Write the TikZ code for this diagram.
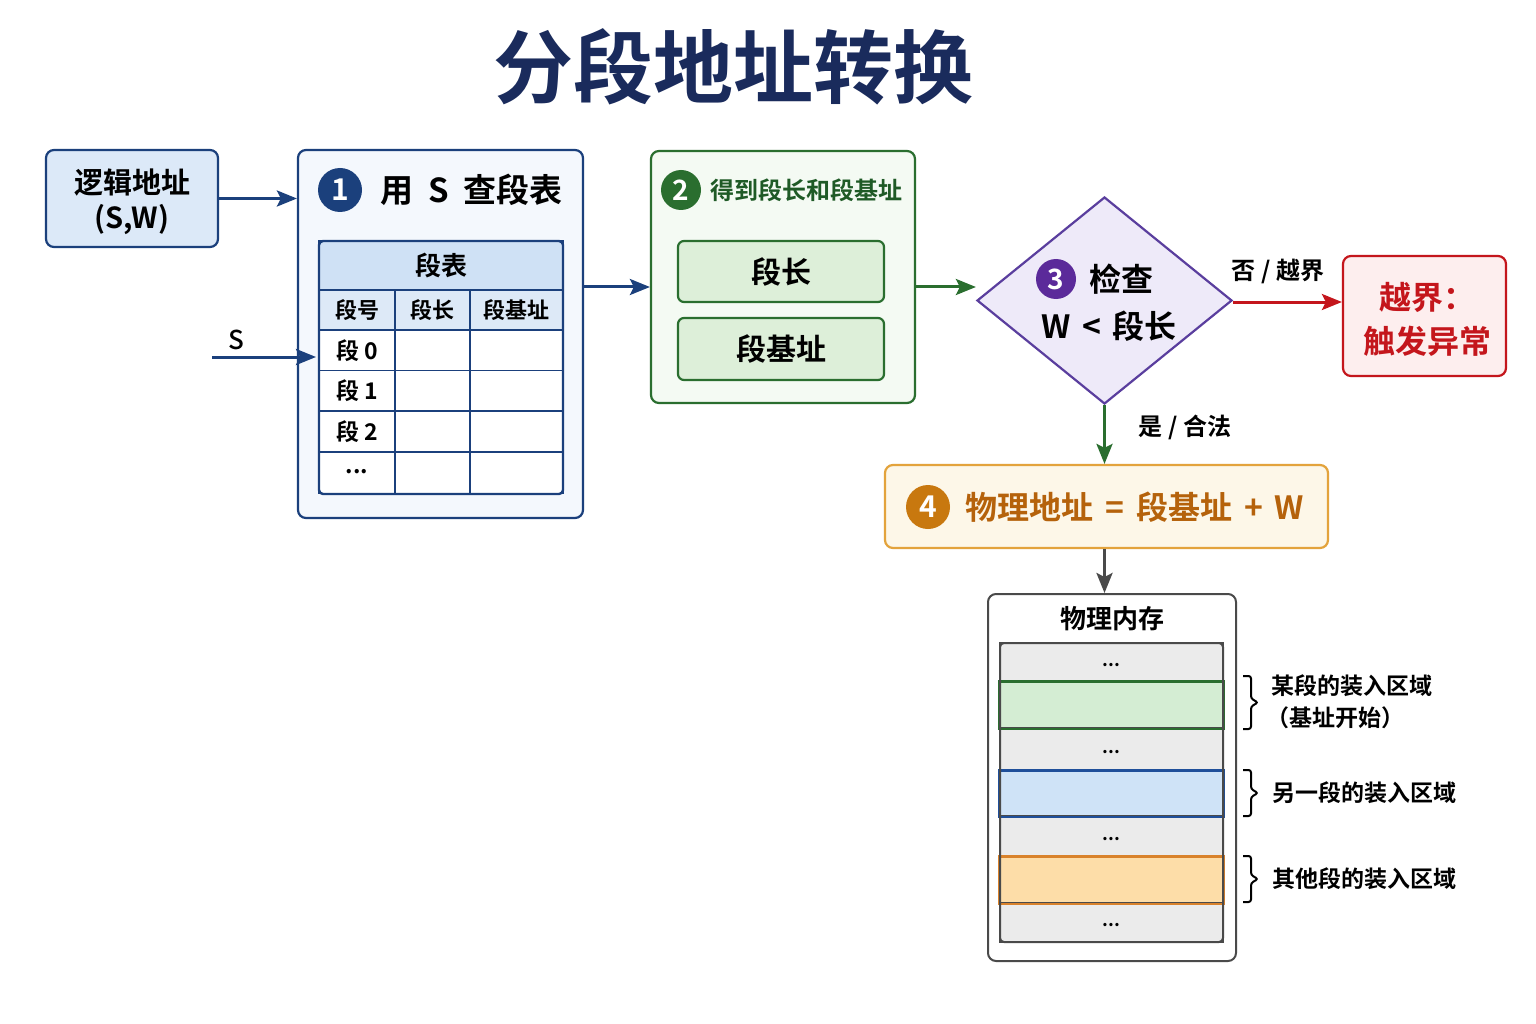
\documentclass[tikz,border=0pt]{standalone}
\usepackage{fontspec}
\setmainfont{Noto Sans CJK SC}[BoldFont={Noto Sans CJK SC Medium}]
\newfontfamily\heavy{Noto Sans CJK SC Bold}
\usetikzlibrary{arrows.meta,shapes.geometric,calc}
\definecolor{navy}{HTML}{1B407C}
\definecolor{titlec}{HTML}{1A2B5C}
\definecolor{lblue}{HTML}{DCE9F8}
\definecolor{vlblue}{HTML}{F4F8FD}
\definecolor{thead}{HTML}{CFE1F5}
\definecolor{tcol}{HTML}{DDE9F7}
\definecolor{grn}{HTML}{2A6E2F}
\definecolor{grnfill}{HTML}{F4FAF3}
\definecolor{grnin}{HTML}{DDEFD9}
\definecolor{grntext}{HTML}{1F5A26}
\definecolor{purp}{HTML}{5A3E9E}
\definecolor{purpfill}{HTML}{EEEAF9}
\definecolor{purpc}{HTML}{5B2A9A}
\definecolor{redc}{HTML}{C4161C}
\definecolor{redfill}{HTML}{FDEEEE}
\definecolor{orb}{HTML}{E3A33C}
\definecolor{orfill}{HTML}{FDF7E8}
\definecolor{orc}{HTML}{C8780F}
\definecolor{ortext}{HTML}{B5620B}
\definecolor{grayb}{HTML}{4A4A4A}
\definecolor{band}{HTML}{EBEBEB}
\definecolor{bandg}{HTML}{D4EDD3}
\definecolor{bandb}{HTML}{CFE3F7}
\definecolor{bandbb}{HTML}{1F4F9A}
\definecolor{bando}{HTML}{FDDDA8}
\definecolor{bandob}{HTML}{D9822B}
\newcommand\fsz[1]{\fontsize{#1}{#1}\selectfont\heavy}
\newcommand\msz[1]{\fontsize{#1}{#1}\selectfont\bfseries}
\newcommand\hsz[1]{\fontsize{#1}{#1}\selectfont\heavy}
\begin{document}
\begin{tikzpicture}[x=1pt,y=-1pt,
  rbox/.style={draw, line width=2.2pt, rounded corners=8pt, inner sep=0pt},
  lbl/.style={inner sep=0pt, text=black},
  numc/.style={circle, inner sep=0pt, minimum size=#1, text=white},
  arr/.style={line width=3pt, -{Stealth[length=20pt,width=16pt,inset=4pt]}},
  cell/.style={draw=navy, line width=1.6pt, inner sep=0pt},
  bnd/.style={draw, line width=1.8pt, inner sep=0pt, minimum width=223pt},
  brc/.style={draw=black, line width=2pt, rounded corners=2.5pt}
]
\useasboundingbox[fill=white] (0,0) rectangle (1536,1024);

% title
\node[lbl, text=titlec, font=\hsz{80}] (title) at (733,67) {分段地址转换};

% logical address
\node[rbox, draw=navy, fill=lblue, minimum width=172pt, minimum height=97pt] (lg) at (132,198.5) {};
\node[lbl, font=\fsz{29}] (lg1) at (132,183) {逻辑地址};
\node[lbl, font=\fsz{29}] (lg2) at (132,220) {(S,W)};

% box 1
\node[rbox, draw=navy, fill=vlblue, minimum width=285pt, minimum height=368pt] (b1) at (440.5,334) {};
\node[numc=44pt, fill=navy, font=\hsz{30}] (n1) at (340,190) {1};
\node[lbl, anchor=west, font=\fsz{33}] (b1t) at (380,190) {用\hspace{15pt}S\hspace{15pt}查段表};

% table
\node[cell, fill=thead, minimum width=244pt, minimum height=49pt] (th) at (441,265.5) {};
\node[lbl, font=\fsz{26}] at (th) {段表};
\foreach \cx/\w/\nm/\tx in {357/76/c1/段号, 432.5/75/c2/段长, 516.5/93/c3/段基址}{
  \node[cell, fill=tcol, minimum width=\w pt, minimum height=40pt] (\nm h) at (\cx,310) {};
  \node[lbl, font=\fsz{22}] at (\nm h) {\tx};
}
\foreach \cy/\r/\tx in {350.5/0/段 0, 391/1/段 1, 431.5/2/段 2, 473/3/\raisebox{4pt}{...}}{
  \node[cell, fill=white, minimum width=76pt, minimum height=41pt] (r\r a) at (357,\cy) {};
  \node[cell, fill=white, minimum width=75pt, minimum height=41pt] (r\r b) at (432.5,\cy) {};
  \node[cell, fill=white, minimum width=93pt, minimum height=41pt] (r\r c) at (516.5,\cy) {};
  \node[lbl, font=\fsz{23}] at (r\r a) {\tx};
}
\draw[draw=navy, line width=2.4pt, rounded corners=4pt] (319,241) rectangle (563,494);

% S input
\coordinate (sin) at (212,357);
\coordinate (sout) at (316,357);
\draw[arr, navy] (sin) -- (sout);
\node[lbl, font=\msz{26}] (slab) at (236,340) {S};

\draw[arr, navy] (lg.east) -- (b1.west |- lg.east);

% box 2
\node[rbox, draw=grn, fill=grnfill, minimum width=264pt, minimum height=252pt] (b2) at (783,277) {};
\node[numc=40pt, fill=grn, font=\hsz{28}] (n2) at (681,190) {2};
\node[lbl, anchor=west, text=grntext, font=\fsz{24}] (b2t) at (710,190) {得到段长和段基址};
\node[rbox, draw=grn, fill=grnin, rounded corners=6pt, minimum width=206pt, minimum height=61pt] (len) at (781,271.5) {};
\node[lbl, font=\fsz{30}] at (len) {段长};
\node[rbox, draw=grn, fill=grnin, rounded corners=6pt, minimum width=206pt, minimum height=62pt] (base) at (781,349) {};
\node[lbl, font=\fsz{30}] at (base) {段基址};

\draw[arr, navy] (b1.east |- 0,287) -- (b2.west |- 0,287);

% diamond
\node[diamond, draw=purp, fill=purpfill, line width=2.2pt, inner sep=0pt, minimum width=255pt, minimum height=207pt] (d) at (1104.5,300.5) {};
\node[numc=40pt, fill=purpc, font=\hsz{28}] (n3) at (1056,279) {3};
\node[lbl, anchor=west, font=\fsz{32}] (dt1) at (1089,279) {检查};
\node[lbl, font=\fsz{32}] (dt2) at (1109,326) {W\hspace{11pt}<\hspace{11pt}段长};

\draw[arr, grn] (b2.east |- 0,287) -- (d.west |- 0,287);

% red box
\node[rbox, draw=redc, fill=redfill, minimum width=163pt, minimum height=120pt] (err) at (1424.5,316) {};
\node[lbl, text=redc, font=\hsz{32}] (e1) at (1427,297) {越界：};
\node[lbl, text=redc, font=\hsz{32}] (e2) at (1427,341) {触发异常};
\draw[arr, redc] (d.east |- 0,302) -- (err.west |- 0,302);
\node[lbl, font=\fsz{24}] (nol) at (1278,271) {否 / 越界};

% box 4
\node[rbox, draw=orb, fill=orfill, minimum width=443pt, minimum height=83pt] (b4) at (1106.5,506.5) {};
\node[numc=44pt, fill=orc, font=\hsz{30}] (n4) at (928,507) {4};
\node[lbl, anchor=west, text=ortext, font=\fsz{32}] (b4t) at (965,507) {物理地址\hspace{12pt}=\hspace{12pt}段基址\hspace{12pt}+\hspace{12pt}W};
\draw[arr, grn] (d.south) -- (d.south |- b4.north);
\node[lbl, font=\fsz{24}] (yesl) at (1185,427) {是 / 合法};

% memory
\node[rbox, draw=grayb, fill=white, line width=2pt, minimum width=248pt, minimum height=367pt] (mem) at (1112,777.5) {};
\node[lbl, font=\fsz{26}] (memt) at (1112,619) {物理内存};
\draw[arr, grayb] (b4.south -| d.south) -- (mem.north -| d.south);

\node[bnd, draw=grayb, fill=band, minimum height=39pt] (m1) at (1111.5,662.5) {};
\node[bnd, draw=grn, fill=bandg, minimum height=46pt] (m2) at (1111.5,705) {};
\node[bnd, draw=grayb, fill=band, minimum height=43pt] (m3) at (1111.5,749.5) {};
\node[bnd, draw=bandbb, fill=bandb, minimum height=45pt] (m4) at (1111.5,793.5) {};
\node[bnd, draw=grayb, fill=band, minimum height=41pt] (m5) at (1111.5,836.5) {};
\node[bnd, draw=bandob, fill=bando, minimum height=46pt] (m6) at (1111.5,880) {};
\node[bnd, draw=grayb, fill=band, minimum height=39pt] (m7) at (1111.5,922.5) {};
\draw[draw=grn, line width=1.8pt] (m2.north west) rectangle (m2.south east);
\draw[draw=bandbb, line width=1.8pt] (m4.north west) rectangle (m4.south east);
\draw[draw=bandob, line width=1.8pt] (m6.north west) rectangle (m6.south east);
\draw[draw=grayb, line width=2pt, rounded corners=4pt] (1000,643) rectangle (1223,942);
\foreach \m in {m1,m3,m5,m7}{\node[lbl, font=\hsz{18}] at ([yshift=-3pt]\m) {...};}

% braces
\foreach \ya/\yb in {676/729, 770/816, 856/902}{
  \draw[brc] (1243,\ya) -- (1251,\ya) -- (1251,{(\ya+\yb)/2-4}) -- (1258,{(\ya+\yb)/2})
    -- (1251,{(\ya+\yb)/2+4}) -- (1251,\yb) -- (1243,\yb);
}
\node[lbl, anchor=west, font=\fsz{23}] (bl1) at (1271,686) {某段的装入区域};
\node[lbl, anchor=west, font=\fsz{23}] (bl1b) at (1266,718) {（基址开始）};
\node[lbl, anchor=west, font=\fsz{23}] (bl2) at (1272,793) {另一段的装入区域};
\node[lbl, anchor=west, font=\fsz{23}] (bl3) at (1272,879) {其他段的装入区域};
\end{tikzpicture}
\end{document}
